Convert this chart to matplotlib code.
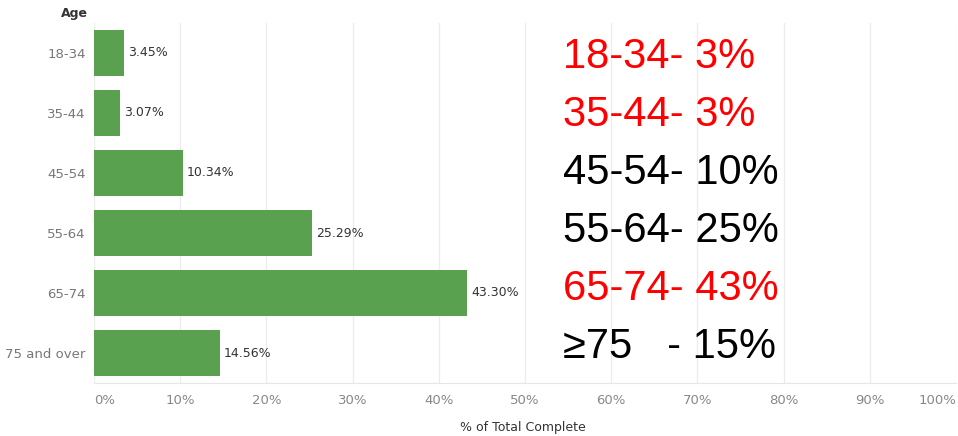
import matplotlib.pyplot as plt
import numpy as np

# data
ages = ['18-34', '35-44', '45-54', '55-64', '65-74', '75 and over']
pct = [3.45, 3.07, 10.34, 25.29, 43.30, 14.56]
notes = ['18-34- 3%', '35-44- 3%', '45-54- 10%', '55-64- 25%', '65-74- 43%', '\u226575   - 15%']
note_colors = ['#ff0000', '#ff0000', '#000000', '#000000', '#ff0000', '#000000']
xticks = list(range(0, 101, 10))

fig = plt.figure(figsize=(9.58, 4.36), dpi=100)
ax = fig.add_axes([94 / 958, 53 / 436, 862 / 958, 360 / 436])

y = np.arange(len(ages))
ax.barh(y, pct, height=0.77, color='#59a14f', zorder=3)
for yi, v in zip(y, pct):
    ax.text(v + 0.45, yi, f'{v:.2f}%', va='center', ha='left', fontsize=9, color='#333333')

# the big notes sit a bit tighter than the rows
for i, (t, c) in enumerate(zip(notes, note_colors)):
    ax.text(54.4, 0.07 + i * 0.967, t, va='center', ha='left', fontsize=30,
            color=c, family='Liberation Sans')

ax.set_xlim(0, 100)
ax.set_ylim(len(ages) - 0.5, -0.5)
ax.set_yticks(y)
ax.set_yticklabels(ages, fontsize=9.5, color='#777777')
ax.set_xticks(xticks)
labels = ax.set_xticklabels([f'{t}%' for t in xticks], fontsize=9.5, color='#888888')
labels[0].set_ha('left')
labels[-1].set_ha('right')

ax.tick_params(length=0, pad=8)
ax.tick_params(axis='y', pad=6)
ax.grid(axis='x', color='#ececec', linewidth=0.9, zorder=0)
for s in ['top', 'right', 'left']:
    ax.spines[s].set_visible(False)
ax.spines['bottom'].set_color('#e6e6e6')

fig.text(88 / 958, 1 - 14 / 436, 'Age', ha='right', va='center', fontsize=9,
         color='#333333', fontweight='semibold')
fig.text(523 / 958, 1 - 427 / 436, '% of Total Complete', ha='center', va='center',
         fontsize=9, color='#333333')

fig.savefig('out.png', dpi=100)
